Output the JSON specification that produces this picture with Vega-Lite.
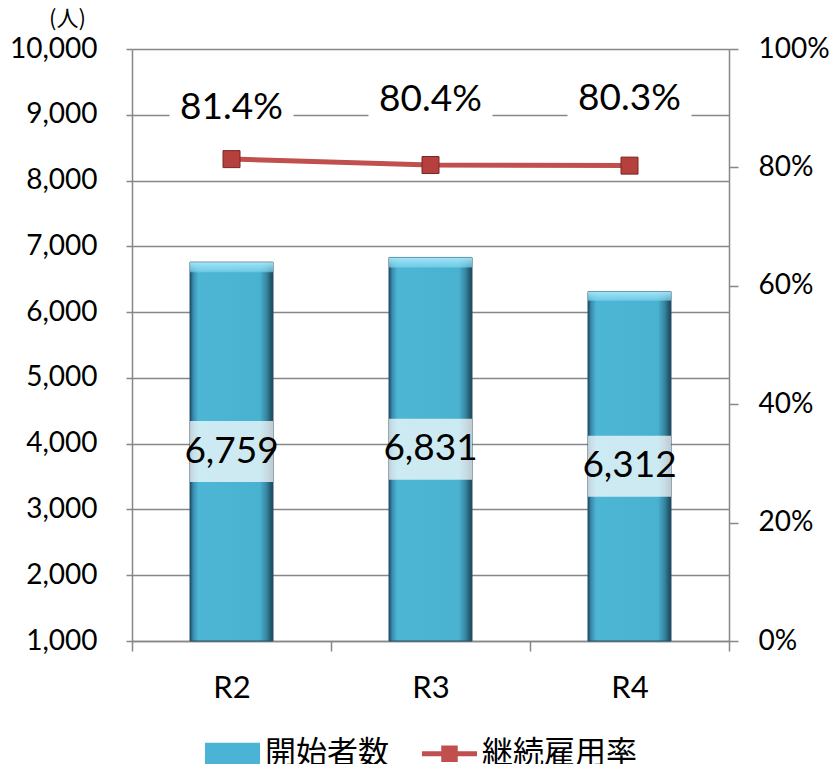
{
  "$schema": "https://vega.github.io/schema/vega-lite/v6.json",
  "width": 597,
  "height": 592,
  "autosize": {"type": "none"},
  "padding": {"left": 132, "top": 49, "right": 102, "bottom": 123},
  "background": "white",
  "config": {
    "view": {"stroke": null},
    "font": "Lato",
    "axis": {
      "labelFont": "Lato",
      "labelFontSize": 28,
      "labelColor": "#000000",
      "domainColor": "#878787",
      "domainWidth": 1.5,
      "tickColor": "#878787",
      "tickWidth": 1.5,
      "gridColor": "#878787",
      "gridWidth": 1.5
    }
  },
  "data": {
    "values": [
      {"year": "R2", "starters": 6759, "rate": 0.814},
      {"year": "R3", "starters": 6831, "rate": 0.804},
      {"year": "R4", "starters": 6312, "rate": 0.803}
    ]
  },
  "encoding": {
    "x": {
      "field": "year",
      "type": "nominal",
      "sort": null,
      "scale": {"paddingInner": 0, "paddingOuter": 0},
      "axis": {
        "title": null,
        "labelAngle": 0,
        "labelFontSize": 31,
        "tickBand": "extent",
        "tickSize": 10,
        "labelPadding": 22,
        "grid": false
      }
    }
  },
  "layer": [
    {
      "encoding": {
        "y": {
          "field": "starters",
          "type": "quantitative",
          "scale": {"domain": [1000, 10000], "nice": false, "zero": false},
          "axis": {
            "orient": "left",
            "values": [1000, 2000, 3000, 4000, 5000, 6000, 7000, 8000, 9000, 10000],
            "format": ",d",
            "grid": true,
            "tickSize": 6,
            "labelPadding": 29,
            "title": "(人)",
            "titleAngle": 0,
            "titleFont": "Noto Sans CJK JP",
            "titleFontSize": 22,
            "titleFontWeight": "normal",
            "titleColor": "#000000",
            "titleAlign": "center",
            "titleBaseline": "middle",
            "titleX": -65,
            "titleY": -31
          }
        },
        "y2": {"datum": 1000}
      },
      "layer": [
        {
          "mark": {
            "type": "bar",
            "width": 83,
            "fill": {
              "gradient": "linear",
              "x1": 0, "y1": 0, "x2": 1, "y2": 0,
              "stops": [
                {"offset": 0, "color": "#1f4d66"},
                {"offset": 0.04, "color": "#3a8db0"},
                {"offset": 0.1, "color": "#4db6d5"},
                {"offset": 0.84, "color": "#4ab2d1"},
                {"offset": 0.92, "color": "#3787a3"},
                {"offset": 1, "color": "#1b4354"}
              ]
            },
            "stroke": "#27506a",
            "strokeWidth": 1
          }
        },
        {
          "mark": {
            "type": "bar",
            "width": 83,
            "fill": {
              "gradient": "linear",
              "x1": 0, "y1": 0, "x2": 0, "y2": 1,
              "stops": [
                {"offset": 0, "color": "rgba(170,232,250,0.95)"},
                {"offset": 0.024, "color": "rgba(130,215,240,0.7)"},
                {"offset": 0.028, "color": "rgba(130,215,240,0)"},
                {"offset": 1, "color": "rgba(130,215,240,0)"}
              ]
            },
            "strokeWidth": 0
          }
        },
        {
          "mark": {"type": "bar", "width": 83, "opacity": 0},
          "encoding": {
            "color": {
              "datum": "開始者数",
              "scale": {"domain": ["開始者数", "継続雇用率"], "range": ["#4bb3d3", "#c0504d"]},
              "legend": {
                "orient": "none",
                "legendX": 73,
                "legendY": 677,
                "direction": "horizontal",
                "columns": 2,
                "columnPadding": 33,
                "title": null,
                "labelFont": "Noto Sans CJK JP",
                "labelFontSize": 31,
                "labelColor": "#000000",
                "labelOffset": 5,
                "labelLimit": 400,
                "symbolSize": 3025,
                "symbolOpacity": 1,
                "symbolStrokeWidth": 0,
                "encode": {
                  "symbols": {
                    "update": {
                      "shape": {"signal": "datum.value === '開始者数' ? 'M-1,-0.4H1V0.4H-1Z' : 'M-1,-0.09H1V0.09H-1Z M-0.3,-0.3H0.3V0.3H-0.3Z'"},
                      "fill": {"signal": "datum.value === '開始者数' ? '#4bb3d3' : '#c0504d'"},
                      "opacity": {"value": 1},
                      "fillOpacity": {"value": 1},
                      "strokeWidth": {"value": 0}
                    }
                  }
                }
              }
            }
          }
        }
      ]
    },
    {
      "encoding": {
        "y": {
          "field": "rate",
          "type": "quantitative",
          "scale": {"domain": [0, 1], "nice": false, "zero": true},
          "axis": {
            "orient": "right",
            "values": [0, 0.2, 0.4, 0.6, 0.8, 1],
            "format": ".0%",
            "grid": false,
            "tickSize": 9,
            "labelPadding": 20,
            "title": null
          }
        }
      },
      "layer": [
        {
          "mark": {"type": "line", "strokeWidth": 5},
          "encoding": {"color": {"datum": "継続雇用率"}}
        },
        {
          "mark": {
            "type": "point",
            "shape": "square",
            "filled": true,
            "size": 289,
            "fill": "#b5403d",
            "stroke": "#7a2624",
            "strokeWidth": 1,
            "opacity": 1
          }
        }
      ]
    },
    {
      "encoding": {
        "y": {
          "field": "starters",
          "type": "quantitative",
          "scale": {"domain": [1000, 19000], "nice": false, "zero": false},
          "axis": null
        }
      },
      "layer": [
        {
          "mark": {"type": "tick", "color": "#ffffff", "opacity": 0.72, "thickness": 61, "size": 83}
        },
        {
          "mark": {"type": "text", "fontSize": 37, "font": "Lato", "baseline": "middle", "align": "center", "color": "#000000"},
          "encoding": {"text": {"field": "starters", "type": "quantitative", "format": ",d"}}
        }
      ]
    },
    {
      "encoding": {
        "y": {
          "field": "rate",
          "type": "quantitative",
          "scale": {"domain": [0.7419, 1.4656], "nice": false, "zero": false, "reverse": true},
          "axis": null
        }
      },
      "layer": [
        {
          "mark": {"type": "tick", "color": "#ffffff", "opacity": 1, "thickness": 46, "size": 124}
        },
        {
          "mark": {"type": "text", "fontSize": 37, "font": "Lato", "baseline": "middle", "align": "center", "color": "#000000"},
          "encoding": {"text": {"field": "rate", "type": "quantitative", "format": ".1%"}}
        }
      ]
    }
  ],
  "resolve": {"scale": {"y": "independent"}}
}
